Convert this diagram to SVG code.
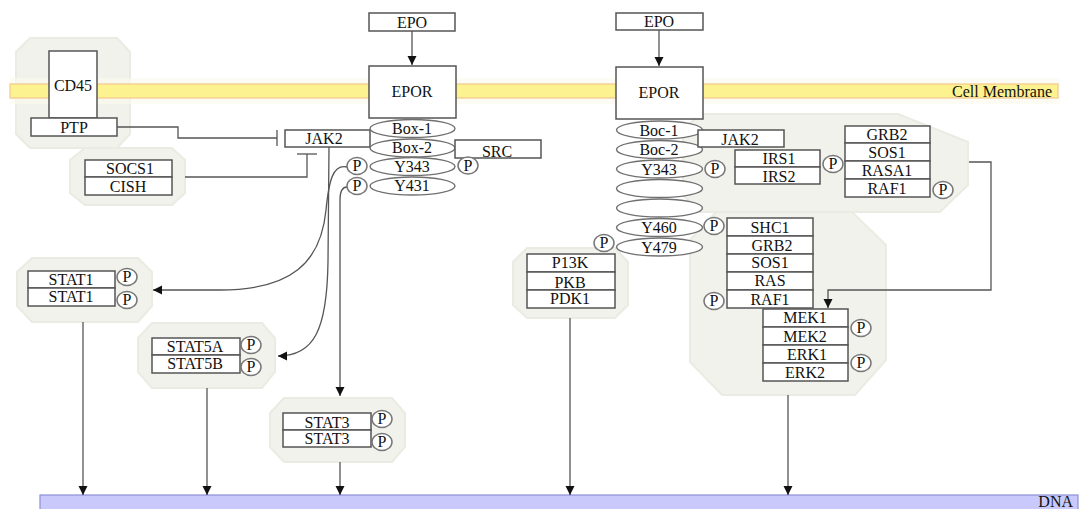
<svg xmlns="http://www.w3.org/2000/svg" width="1080" height="509" viewBox="0 0 1080 509">
<style>
.bx{fill:#fff;stroke:#555;stroke-width:1.5}
.t{font-family:"Liberation Serif",serif;font-size:16px;fill:#111;text-anchor:middle}
.el{fill:#fff;stroke:#707070;stroke-width:1.4}
.p{fill:#fff;stroke:#777;stroke-width:1.5}
.grp{fill:#f2f2ec;stroke:#ebebe3;stroke-width:2}
.c{fill:none;stroke:#555;stroke-width:1.3}
.a{marker-end:url(#arr)}
</style>
<defs>
<marker id="arr" markerUnits="userSpaceOnUse" markerWidth="10" markerHeight="10" refX="9" refY="4.5" orient="auto">
<path d="M0,0 L9,4.5 L0,9 z" fill="#111"/>
</marker>
</defs>
<rect width="1080" height="509" fill="#fff"/>

<!-- group backgrounds -->
<g id="groups">
<polygon class="grp" points="30,38 117,38 130,52 130,134 117,148 30,148 16,134 16,52"/>
<polygon class="grp" points="85,148 172,148 185,160 185,193 172,205 85,205 70,193 70,160"/>
<polygon class="grp" points="32,258 138,258 152,272 152,306 138,322 32,322 17,306 17,272"/>
<polygon class="grp" points="152,323 262,323 275,338 275,372 262,388 152,388 138,372 138,338"/>
<polygon class="grp" points="284,398 392,398 405,413 405,447 392,462 284,462 270,447 270,413"/>
<polygon class="grp" points="527,248 615,248 628,262 628,305 615,318 527,318 513,305 513,262"/>
<polygon class="grp" points="700,114 898,114 968,142 968,185 940,212 700,212 683,195 683,130"/>
<polygon class="grp" points="716,212 852,212 886,245 886,360 855,395 722,395 690,362 690,240"/>
</g>

<!-- membrane -->
<g id="membrane">
<rect x="10" y="78" width="1050" height="26" fill="#fbfaf0" opacity="0.7"/>
<rect x="10" y="84" width="1048" height="14" fill="#fcf28f" stroke="#f2c98e" stroke-width="1.2"/>
<text x="1052" y="97" font-family="Liberation Serif, serif" font-size="16" fill="#111" text-anchor="end">Cell Membrane</text>
</g>

<!-- DNA -->
<g id="dna">
<rect x="40" y="495" width="1038" height="16" fill="#c9c9fb" stroke="#8f8fd8" stroke-width="1.2"/>
<text x="1073" y="507" font-family="Liberation Serif, serif" font-size="16" fill="#111" text-anchor="end">DNA</text>
</g>

<!-- connectors -->
<g id="connectors">
<path class="c a" d="M412,31 L412,65"/>
<path class="c a" d="M659,30 L659,66"/>
<path class="c" d="M117,127 H178 V138 H277"/>
<path class="c" d="M277,130 V146" stroke-width="1.6"/>
<path class="c" d="M185,177 H307 V154"/>
<path class="c" d="M297,154 H317" stroke-width="1.6"/>
<path class="c a" d="M347,167 C333,164 329,180 326,210 C321,262 292,290 220,290 L153,290"/>
<path class="c a" d="M329,147 L328,262 C327,330 314,356 278,356"/>
<path class="c a" d="M347,187 C342,187 340,192 340,200 L340,396"/>
<path class="c a" d="M969,162 H991 V290 H828 V308"/>
<path class="c a" d="M83,322 V495"/>
<path class="c a" d="M207,388 V495"/>
<path class="c a" d="M340,462 V495"/>
<path class="c a" d="M570,318 V495"/>
<path class="c a" d="M788,395 V495"/>
</g>

<!-- left side nodes -->
<g id="cd45">
<rect class="bx" x="49" y="51" width="48" height="67"/>
<text class="t" x="73" y="91">CD45</text>
<rect class="bx" x="31" y="118" width="86" height="18"/>
<text class="t" x="74" y="133">PTP</text>
</g>
<g id="socs">
<rect class="bx" x="85" y="160" width="87" height="17"/>
<text class="t" x="130" y="174">SOCS1</text>
<rect class="bx" x="85" y="177" width="87" height="18"/>
<text class="t" x="128" y="192">CISH</text>
</g>
<g id="jak2-left">
<rect class="bx" x="285" y="130" width="85" height="17"/>
<text class="t" x="324" y="144">JAK2</text>
</g>
<g id="epo-left">
<rect class="bx" x="369" y="13" width="86" height="18"/>
<text class="t" x="412" y="28">EPO</text>
</g>
<g id="epor-left">
<rect class="bx" x="369" y="66" width="87" height="52"/>
<text class="t" x="412" y="97">EPOR</text>
<ellipse class="el" cx="412.5" cy="128.5" rx="42.5" ry="9"/>
<text class="t" x="412" y="134">Box-1</text>
<ellipse class="el" cx="412.5" cy="148" rx="42.5" ry="9"/>
<text class="t" x="412" y="153">Box-2</text>
<ellipse class="el" cx="412.5" cy="166.5" rx="42.5" ry="9"/>
<text class="t" x="412" y="172">Y343</text>
<ellipse class="el" cx="412.5" cy="186" rx="42.5" ry="9"/>
<text class="t" x="412" y="191">Y431</text>
</g>
<g id="src">
<rect class="bx" x="455" y="140" width="86" height="18"/>
<text class="t" x="497" y="157">SRC</text>
</g>
<g id="p-left">
<ellipse class="p" cx="357" cy="166" rx="10" ry="8.5"/><text class="t" x="357" y="171">P</text>
<ellipse class="p" cx="468" cy="165.5" rx="10" ry="8.5"/><text class="t" x="468" y="170.5">P</text>
<ellipse class="p" cx="357" cy="186" rx="10" ry="8.5"/><text class="t" x="357" y="191">P</text>
</g>

<g id="stat1">
<rect class="bx" x="28" y="271" width="87" height="17"/>
<text class="t" x="71" y="285">STAT1</text>
<rect class="bx" x="28" y="288" width="87" height="18"/>
<text class="t" x="71" y="302">STAT1</text>
<ellipse class="p" cx="127" cy="277" rx="10" ry="8.5"/><text class="t" x="127" y="282">P</text>
<ellipse class="p" cx="127" cy="300" rx="10" ry="8.5"/><text class="t" x="127" y="305">P</text>
</g>
<g id="stat5">
<rect class="bx" x="152" y="338" width="88" height="17"/>
<text class="t" x="195" y="352">STAT5A</text>
<rect class="bx" x="152" y="355" width="88" height="18"/>
<text class="t" x="195" y="369">STAT5B</text>
<ellipse class="p" cx="251" cy="345" rx="10" ry="8.5"/><text class="t" x="251" y="350">P</text>
<ellipse class="p" cx="251" cy="367" rx="10" ry="8.5"/><text class="t" x="251" y="372">P</text>
</g>
<g id="stat3">
<rect class="bx" x="283" y="413" width="88" height="17"/>
<text class="t" x="327" y="428">STAT3</text>
<rect class="bx" x="283" y="430" width="88" height="17"/>
<text class="t" x="327" y="444">STAT3</text>
<ellipse class="p" cx="382" cy="419" rx="10" ry="8.5"/><text class="t" x="382" y="424">P</text>
<ellipse class="p" cx="382" cy="442" rx="10" ry="8.5"/><text class="t" x="382" y="447">P</text>
</g>

<!-- right side nodes -->
<g id="epo-right">
<rect class="bx" x="616" y="13" width="87" height="17"/>
<text class="t" x="659" y="27">EPO</text>
</g>
<g id="epor-right">
<rect class="bx" x="616" y="67" width="87" height="52"/>
<text class="t" x="659" y="98">EPOR</text>
<ellipse class="el" cx="659.5" cy="130" rx="43" ry="9"/>
<text class="t" x="659" y="135.5">Boc-1</text>
<ellipse class="el" cx="659.5" cy="149.5" rx="43" ry="9"/>
<text class="t" x="659" y="155">Boc-2</text>
<ellipse class="el" cx="659.5" cy="169" rx="43" ry="9"/>
<text class="t" x="659" y="174.5">Y343</text>
<ellipse class="el" cx="659.5" cy="188.5" rx="43" ry="9"/>
<ellipse class="el" cx="659.5" cy="208" rx="43" ry="9"/>
<ellipse class="el" cx="659.5" cy="227.5" rx="43" ry="9"/>
<text class="t" x="659" y="233">Y460</text>
<ellipse class="el" cx="659.5" cy="247" rx="43" ry="9"/>
<text class="t" x="659" y="253">Y479</text>
</g>
<g id="jak2-right">
<rect class="bx" x="698" y="130" width="86" height="17"/>
<text class="t" x="740" y="145">JAK2</text>
</g>
<g id="irs">
<rect class="bx" x="735" y="150" width="85" height="17"/>
<text class="t" x="779" y="164">IRS1</text>
<rect class="bx" x="735" y="167" width="85" height="17"/>
<text class="t" x="779" y="182">IRS2</text>
</g>
<g id="grb2-upper">
<rect class="bx" x="845" y="126" width="85" height="17"/>
<text class="t" x="887" y="140">GRB2</text>
<rect class="bx" x="845" y="143" width="85" height="18"/>
<text class="t" x="887" y="158">SOS1</text>
<rect class="bx" x="845" y="161" width="85" height="18"/>
<text class="t" x="887" y="176">RASA1</text>
<rect class="bx" x="845" y="179" width="85" height="18"/>
<text class="t" x="887" y="194">RAF1</text>
</g>
<g id="p-right">
<ellipse class="p" cx="715" cy="169" rx="10" ry="8.5"/><text class="t" x="715" y="174">P</text>
<ellipse class="p" cx="833" cy="164" rx="10" ry="8.5"/><text class="t" x="833" y="169">P</text>
<ellipse class="p" cx="943" cy="190" rx="10" ry="8.5"/><text class="t" x="943" y="195">P</text>
<ellipse class="p" cx="714" cy="226" rx="10" ry="8.5"/><text class="t" x="714" y="231">P</text>
<ellipse class="p" cx="604" cy="243" rx="10" ry="8.5"/><text class="t" x="604" y="248">P</text>
<ellipse class="p" cx="714" cy="301" rx="10" ry="8.5"/><text class="t" x="714" y="306">P</text>
<ellipse class="p" cx="861" cy="328" rx="10" ry="8.5"/><text class="t" x="861" y="333">P</text>
<ellipse class="p" cx="861" cy="363" rx="10" ry="8.5"/><text class="t" x="861" y="368">P</text>
</g>
<g id="shc1">
<rect class="bx" x="727" y="218" width="86" height="18"/>
<text class="t" x="770" y="233">SHC1</text>
<rect class="bx" x="727" y="236" width="86" height="18"/>
<text class="t" x="772" y="251">GRB2</text>
<rect class="bx" x="727" y="254" width="86" height="18"/>
<text class="t" x="770" y="268">SOS1</text>
<rect class="bx" x="727" y="272" width="86" height="18"/>
<text class="t" x="770" y="286">RAS</text>
<rect class="bx" x="727" y="290" width="86" height="18"/>
<text class="t" x="770" y="305">RAF1</text>
</g>
<g id="mek">
<rect class="bx" x="763" y="309" width="85" height="18"/>
<text class="t" x="805" y="323">MEK1</text>
<rect class="bx" x="763" y="327" width="85" height="18"/>
<text class="t" x="805" y="342">MEK2</text>
<rect class="bx" x="763" y="345" width="85" height="18"/>
<text class="t" x="807" y="360">ERK1</text>
<rect class="bx" x="763" y="363" width="85" height="18"/>
<text class="t" x="805" y="378">ERK2</text>
</g>
<g id="pi3k">
<rect class="bx" x="527" y="254" width="88" height="18"/>
<text class="t" x="570" y="268">P13K</text>
<rect class="bx" x="527" y="272" width="88" height="18"/>
<text class="t" x="570" y="288">PKB</text>
<rect class="bx" x="527" y="290" width="88" height="18"/>
<text class="t" x="570" y="304">PDK1</text>
</g>
</svg>
